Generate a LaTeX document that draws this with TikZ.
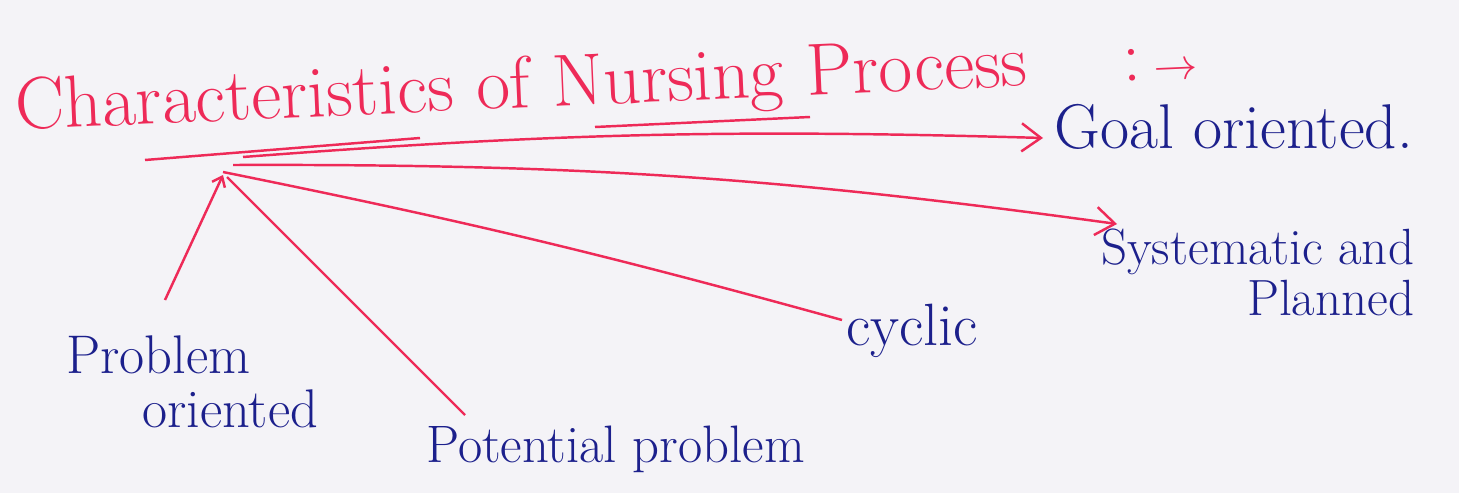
\documentclass[tikz,border=0pt]{standalone}
\usepackage{tikz}
\usetikzlibrary{arrows,arrows.meta,positioning,calc}
\definecolor{pen}{RGB}{238,42,88}
\definecolor{ink}{RGB}{28,32,140}
\definecolor{paper}{RGB}{244,243,247}
\newcommand{\tightlines}{\lineskiplimit=-50pt\relax}

\begin{document}
\begin{tikzpicture}[x=0.02cm, y=-0.02cm, ->, >={Straight Barb[length=11pt,width=16pt]}, line width=1.4pt, color=pen]
\tikzstyle{headtext}=[text=pen, font=\fontsize{42}{48}\selectfont, inner sep=0pt, anchor=base west, rotate=2.5]
\tikzstyle{bluetext}=[text=ink, inner sep=0pt, anchor=base west]
\fill[paper, -] (0,0) rectangle (1459,493);
\useasboundingbox (0,0) rectangle (1459,493);

\node[headtext] (head) at (15,130) {Characteristics of Nursing Process\hspace{1.3em}:\,$\rightarrow$};
\node[bluetext, font=\fontsize{36}{40}\selectfont] (goal) at (1053,149) {Goal oriented.};
\node[bluetext, anchor=north west, align=right, font={\fontsize{29}{29}\selectfont\tightlines}] (sys) at (1100,228) {Systematic and\\Planned};
\node[bluetext, font=\fontsize{34}{40}\selectfont] (cyclic) at (845,345) {cyclic};
\node[bluetext, anchor=north west, align=left, font={\fontsize{31}{31}\selectfont\tightlines}] (probor) at (65,334) {Problem\\\hspace*{1.4em}oriented};
\node[bluetext, font=\fontsize{30}{36}\selectfont] (potprob) at (425,462) {Potential problem};

\coordinate (hub)  at (223,172);
\coordinate (hubA) at (243,157);
\coordinate (hubB) at (233,165);

% underlines
\draw[-] (145,160) -- (420,138);
\draw[-] (595,127) -- (810,117);

\path
 (hubA) edge[bend left=3] ($(goal.base west)+(-10,-11)$)
 (hubB) edge[bend left=4] ($(sys.north west)+(17,-4)$)
 ($(cyclic.base west)+(-3,-25)$) edge[-, bend right=2] (hub)
 ($(probor.north west)+(100,-34)$) edge[>={Straight Barb[length=5pt,width=8pt]}] ($(hub)+(0,3)$)
 ($(potprob.base west)+(40,-47)$) edge[-] ($(hub)+(4,5)$);
\end{tikzpicture}
\end{document}
